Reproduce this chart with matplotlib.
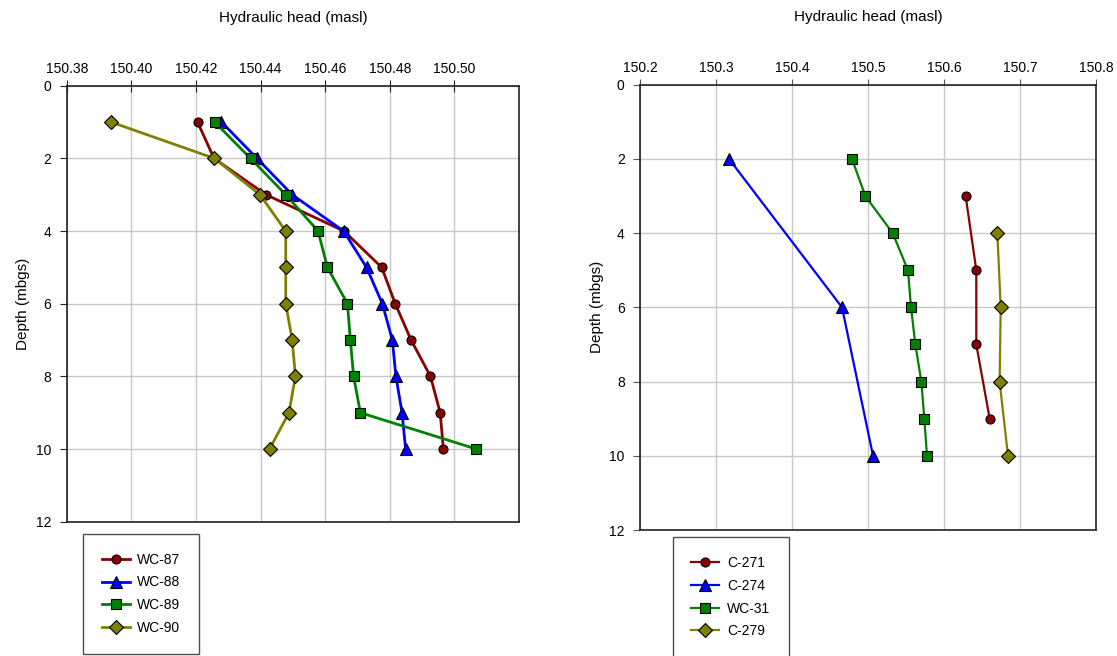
import matplotlib.pyplot as plt
import numpy as np

plt.rcParams['font.family'] = ['Liberation Sans', 'DejaVu Sans']

# ---- well group 1: WC-87..WC-90, depth 1-10 m
depth_wc = [1, 2, 3, 4, 5, 6, 7, 8, 9, 10]
wc87 = [150.4205, 150.4256, 150.4417, 150.4658, 150.4775, 150.4817, 150.4866, 150.4926, 150.4956, 150.4966]
wc88 = [150.4279, 150.4389, 150.4498, 150.4657, 150.4728, 150.4777, 150.4808, 150.4819, 150.4838, 150.4849]
wc89 = [150.4258, 150.4369, 150.4478, 150.4578, 150.4607, 150.4669, 150.4678, 150.4688, 150.4709, 150.5068]
wc90 = [150.3937, 150.4257, 150.4398, 150.4478, 150.4478, 150.4478, 150.4498, 150.4508, 150.4488, 150.4428]

# ---- well group 2: C-271, C-274, WC-31, C-279
depth_c271 = [3, 5, 7, 9]
c271 = [150.6285, 150.6425, 150.6425, 150.6601]
depth_c274 = [2, 6, 10]
c274 = [150.3171, 150.4658, 150.5066]
depth_wc31 = [2, 3, 4, 5, 6, 7, 8, 9, 10]
wc31 = [150.4789, 150.4965, 150.5325, 150.5526, 150.5566, 150.5623, 150.5702, 150.5741, 150.5776]
depth_c279 = [4, 6, 8, 10]
c279 = [150.6702, 150.6746, 150.6732, 150.6842]

ticks_left = [150.38, 150.40, 150.42, 150.44, 150.46, 150.48, 150.50]
ticks_right = [150.2, 150.3, 150.4, 150.5, 150.6, 150.7, 150.8]
depth_ticks = [0, 2, 4, 6, 8, 10, 12]

RED, BLUE, GREEN, OLIVE = '#8b0000', '#0000ff', '#008000', '#808000'

W, H = 1117, 656
fig = plt.figure(figsize=(W / 100, H / 100), dpi=100)


def px_axes(x0, y0, x1, y1):
    return fig.add_axes([x0 / W, 1 - y1 / H, (x1 - x0) / W, (y1 - y0) / H])


def style_axes(ax, xlim, xticks, tick_dir, tick_len, tick_col):
    ax.set_xlim(*xlim)
    ax.set_ylim(12, 0)
    ax.xaxis.tick_top()
    ax.xaxis.set_label_position('top')
    ax.set_xticks(xticks)
    ax.set_yticks(depth_ticks)
    ax.grid(True, color='#c8c8c8', lw=1.0)
    ax.set_axisbelow(True)
    for s in ax.spines.values():
        s.set_color('#222222')
        s.set_linewidth(1.2)
    ax.tick_params(axis='x', direction=tick_dir, length=tick_len, color=tick_col,
                   labelsize=10, pad=3)
    ax.tick_params(axis='y', direction='out', length=5, color=tick_col,
                   labelsize=10, pad=6)
    ax.set_xlabel('Hydraulic head (masl)', fontsize=11, labelpad=29)
    ax.set_ylabel('Depth (mbgs)', fontsize=11, labelpad=4)


def legend_box(ax, x, y):
    leg = ax.legend(loc='upper left', bbox_to_anchor=(x / W, 1 - y / H),
                    bbox_transform=fig.transFigure, fontsize=10,
                    frameon=True, fancybox=False, edgecolor='#222222',
                    borderpad=1.35, labelspacing=0.63, handlelength=2.0,
                    handletextpad=0.55, borderaxespad=0)
    leg.get_frame().set_linewidth(1.0)


mk = dict(mec='black', mew=0.8)

# left panel
ax1 = px_axes(66.7, 85.7, 519, 521.7)
ax1.plot(wc87, depth_wc, color=RED, lw=2.0, marker='o', ms=6.5, label='WC-87', **mk)
ax1.plot(wc88, depth_wc, color=BLUE, lw=2.0, marker='^', ms=8, label='WC-88', **mk)
ax1.plot(wc89, depth_wc, color=GREEN, lw=2.0, marker='s', ms=7, label='WC-89', **mk)
ax1.plot(wc90, depth_wc, color=OLIVE, lw=2.0, marker='D', ms=7, label='WC-90', **mk)
style_axes(ax1, (150.38, 150.52), ticks_left, 'inout', 8, '#222222')
ax1.set_xticklabels(['%.2f' % t for t in ticks_left])
legend_box(ax1, 83, 534)

# right panel
ax2 = px_axes(640, 84.7, 1096, 530)
ax2.plot(c271, depth_c271, color=RED, lw=1.6, marker='o', ms=6.5, label='C-271', **mk)
ax2.plot(c274, depth_c274, color=BLUE, lw=1.6, marker='^', ms=8, label='C-274', **mk)
ax2.plot(wc31, depth_wc31, color=GREEN, lw=1.6, marker='s', ms=7, label='WC-31', **mk)
ax2.plot(c279, depth_c279, color=OLIVE, lw=1.6, marker='D', ms=7, label='C-279', **mk)
style_axes(ax2, (150.2, 150.8), ticks_right, 'out', 4, '#555555')
ax2.set_xticklabels(['%.1f' % t for t in ticks_right])
legend_box(ax2, 672.7, 537.3)

fig.savefig('out.png', dpi=100)
